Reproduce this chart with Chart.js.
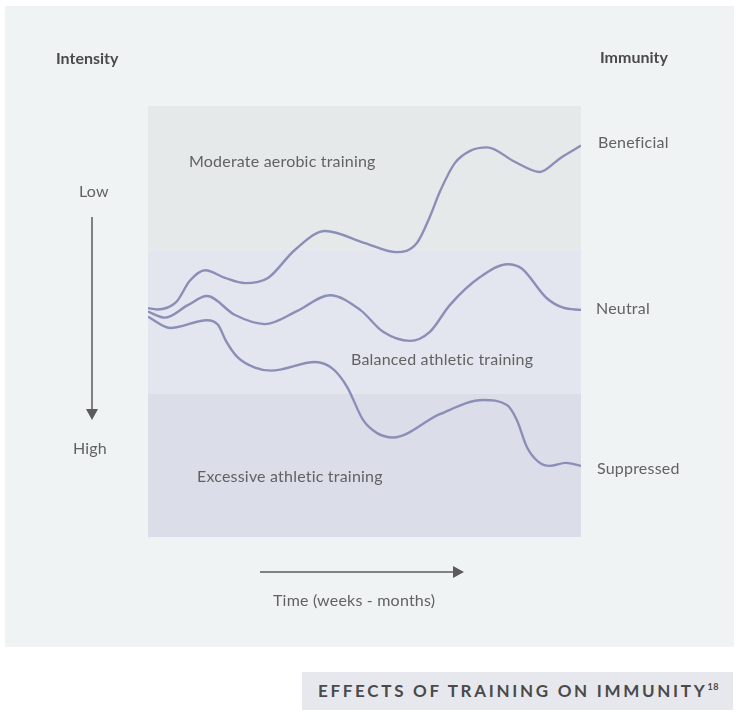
<!DOCTYPE html>
<html>
<head>
<meta charset="utf-8">
<script src="https://cdn.jsdelivr.net/npm/chart.js@4.4.1/dist/chart.umd.min.js"></script>
<style>
  html, body { margin: 0; padding: 0; background: #fff; }
  body { width: 748px; height: 722px; position: relative; overflow: hidden; font-family: Lato, "Open Sans", sans-serif; }
  #panel { position: absolute; left: 5px; top: 6px; width: 729px; height: 641px; background: #eff3f4; }
  #wrap { position: absolute; left: 0; top: 0; width: 748px; height: 722px; }
  .lbl { position: absolute; color: #626262; font-size: 16px; letter-spacing: 0.2px; white-space: nowrap; line-height: 1; }
  .head { position: absolute; color: #4a4a4a; font-size: 16px; font-weight: 700; white-space: nowrap; line-height: 1; }
  #title { position: absolute; left: 302px; top: 672px; width: 431px; height: 38px; background: #e7e8ee;
           color: #4a4a4a; font-weight: 700; font-size: 17px; letter-spacing: 2.7px; line-height: 38px; text-indent: 16px; white-space: nowrap; }
  #title sup { font-size: 9px; letter-spacing: 0.5px; vertical-align: 7px; line-height: 0; }
</style>
</head>
<body>
<div id="panel"></div>
<div id="wrap"><canvas id="chart" width="748" height="722"></canvas></div>

<div class="head" style="left:56px; top:50px;">Intensity</div>
<div class="head" style="left:600px; top:49px;">Immunity</div>
<div class="lbl" style="left:79px; top:183px;">Low</div>
<div class="lbl" style="left:73px; top:440px;">High</div>
<div class="lbl" style="left:598px; top:134px;">Beneficial</div>
<div class="lbl" style="left:596px; top:300px;">Neutral</div>
<div class="lbl" style="left:597px; top:460px;">Suppressed</div>
<div class="lbl" style="left:189px; top:153px;">Moderate aerobic training</div>
<div class="lbl" style="left:351px; top:351px;">Balanced athletic training</div>
<div class="lbl" style="left:197px; top:468px;">Excessive athletic training</div>
<div class="lbl" style="left:273px; top:592px;">Time (weeks - months)</div>
<div id="title">EFFECTS OF TRAINING ON IMMUNITY<sup>18</sup></div>

<script>
// time (0-100) and immunity level (0-100)
const moderateX = [0, 2.1, 6.5, 9.7, 13.2, 17.8, 22.4, 27.7, 33.9, 40.9, 50.1, 57.3, 62.1, 65.1, 67.4, 70.9, 74.4, 78.3, 84.8, 90.5, 95.2, 100];
const moderateY = [53.1, 52.8, 54.5, 59.5, 61.9, 60.1, 58.9, 60.1, 66.6, 71.0, 68.2, 66.1, 68.2, 74.3, 80.1, 86.8, 89.6, 90.4, 87.0, 84.7, 87.9, 90.8];

const balancedX = [0, 3.9, 9.2, 13.6, 20.1, 27.0, 34.4, 42.0, 49.0, 54.3, 60.5, 65.1, 69.7, 76.7, 83.1, 86.3, 92.1, 95.9, 100];
const balancedY = [52.3, 50.9, 53.8, 55.9, 51.5, 49.4, 52.4, 56.1, 52.7, 47.6, 45.5, 47.6, 53.8, 60.3, 63.3, 62.3, 55.4, 53.2, 52.7];

const excessiveX = [0, 5.1, 13.6, 16.2, 18.0, 20.6, 24.7, 28.4, 38.6, 42.7, 46.0, 49.7, 52.9, 56.6, 67.4, 77.4, 82.9, 85.2, 87.5, 90.1, 92.8, 96.5, 100];
const excessiveY = [51.1, 48.5, 50.3, 49.2, 45.5, 41.8, 39.3, 38.6, 40.6, 39.0, 34.8, 27.1, 24.1, 23.1, 28.5, 31.8, 30.6, 27.1, 20.9, 17.5, 16.5, 17.2, 16.5];

// immunity zones (low, high) from bottom to top
const zoneBounds = [[0, 33.33], [33.33, 66.67], [66.67, 100]];
const zoneColors = ['#dbdee9', '#e3e6ee', '#e6e9ea'];

const lineColor = '#8b8fb7';
const arrowColor = '#5b5b5b';

function pts(xs, ys) {
  return xs.map((x, i) => ({ x: x, y: ys[i] }));
}

function curve(label, xs, ys) {
  return {
    label: label,
    data: pts(xs, ys),
    borderColor: lineColor,
    borderWidth: 2.4,
    pointRadius: 0,
    fill: false,
    cubicInterpolationMode: 'monotone'
  };
}

// bands behind the curves, arrows outside the plot
const decor = {
  id: 'decor',
  beforeDatasetsDraw(chart) {
    const { ctx, chartArea: a, scales: { y } } = chart;
    ctx.save();
    zoneBounds.forEach((b, i) => {
      const top = y.getPixelForValue(b[1]);
      const bot = y.getPixelForValue(b[0]);
      ctx.fillStyle = zoneColors[i];
      ctx.fillRect(a.left, top, a.right - a.left, bot - top);
    });
    ctx.restore();
  },
  afterDraw(chart) {
    const { ctx } = chart;
    ctx.save();
    ctx.strokeStyle = arrowColor;
    ctx.fillStyle = arrowColor;
    ctx.lineWidth = 1.5;
    // intensity arrow
    ctx.beginPath();
    ctx.moveTo(92, 217);
    ctx.lineTo(92, 412);
    ctx.stroke();
    ctx.beginPath();
    ctx.moveTo(86, 409);
    ctx.lineTo(98, 409);
    ctx.lineTo(92, 420);
    ctx.closePath();
    ctx.fill();
    // time arrow
    ctx.beginPath();
    ctx.moveTo(260, 572);
    ctx.lineTo(456, 572);
    ctx.stroke();
    ctx.beginPath();
    ctx.moveTo(453, 566);
    ctx.lineTo(453, 578);
    ctx.lineTo(464, 572);
    ctx.closePath();
    ctx.fill();
    ctx.restore();
  }
};

new Chart(document.getElementById('chart').getContext('2d'), {
  type: 'line',
  data: {
    datasets: [
      curve('Moderate aerobic training', moderateX, moderateY),
      curve('Balanced athletic training', balancedX, balancedY),
      curve('Excessive athletic training', excessiveX, excessiveY)
    ]
  },
  options: {
    responsive: false,
    animation: false,
    devicePixelRatio: 1,
    layout: { padding: { left: 148, top: 106, right: 167, bottom: 185 } },
    plugins: { legend: { display: false }, tooltip: { enabled: false } },
    scales: {
      x: { type: 'linear', min: 0, max: 100, display: false },
      y: { min: 0, max: 100, display: false }
    }
  },
  plugins: [decor]
});
</script>
</body>
</html>
